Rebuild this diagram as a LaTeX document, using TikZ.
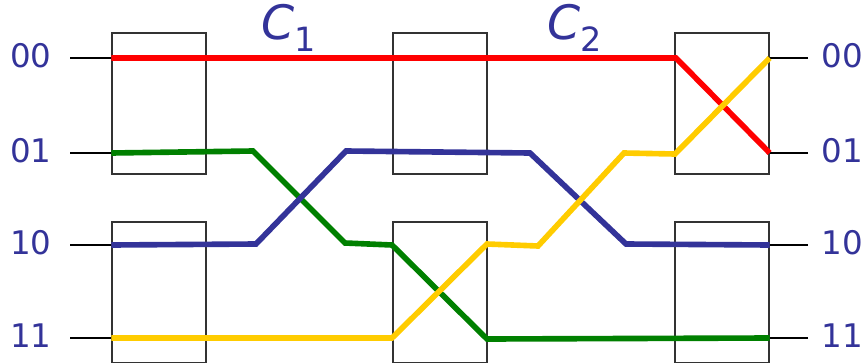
\documentclass[tikz,border=0pt]{standalone}
\usepackage{fontspec}
\newfontfamily\labelfont{DejaVu Sans}
\definecolor{navy}{RGB}{51,51,153}
\definecolor{wred}{RGB}{255,0,0}
\definecolor{wgreen}{RGB}{0,128,0}
\definecolor{wyellow}{RGB}{255,204,0}
\begin{document}
\begin{tikzpicture}[x=0.02cm, y=-0.02cm,
    switchbox/.style={draw=black!80, line width=0.8pt, minimum width=1.88cm, minimum height=2.82cm, inner sep=0pt},
    port/.style={text=navy, font=\labelfont\fontsize{18.5}{22}\selectfont},
    stage/.style={text=navy, font=\labelfont\fontsize{27}{30}\selectfont},
    stub/.style={line width=0.7pt},
    wire/.style={line width=3.2pt}]
	\useasboundingbox (0,0) rectangle (865,362);
	\clip (0,0) rectangle (865,362);
	% switches
	\node[switchbox] (a1) at (159,103.5) {};
	\node[switchbox] (a2) at (159,292.5) {};
	\node[switchbox] (b1) at (440,103.5) {};
	\node[switchbox] (b2) at (440,292.5) {};
	\node[switchbox] (c1) at (722,103.5) {};
	\node[switchbox] (c2) at (722,292.5) {};
	% labels
	\node[port] (in0) at (31,56) {00};
	\node[port] (in1) at (31,151) {01};
	\node[port] (in2) at (31,243) {10};
	\node[port] (in3) at (31,336) {11};
	\node[port] (out0) at (842,56) {00};
	\node[port] (out1) at (842,151) {01};
	\node[port] (out2) at (842,243) {10};
	\node[port] (out3) at (842,336) {11};
	\node[stage] (st1) at (289,28) {\textit{C}\raisebox{-0.25em}{\fontsize{19}{19}\selectfont 1}};
	\node[stage] (st2) at (575,28) {\textit{C}\raisebox{-0.25em}{\fontsize{19}{19}\selectfont 2}};
	% stubs
	\coordinate (l0) at (70,58);
	\coordinate (l1) at (70,153);
	\coordinate (l2) at (70,245);
	\coordinate (l3) at (70,338);
	\coordinate (r0) at (808,58);
	\coordinate (r1) at (808,153);
	\coordinate (r2) at (808,245);
	\coordinate (r3) at (808,338);
	\draw[stub] (l0) -- (l0 -| a1.west);
	\draw[stub] (l1) -- (l1 -| a1.west);
	\draw[stub] (l2) -- (l2 -| a2.west);
	\draw[stub] (l3) -- (l3 -| a2.west);
	\draw[stub] (r0) -- (r0 -| c1.east);
	\draw[stub] (r1) -- (r1 -| c1.east);
	\draw[stub] (r2) -- (r2 -| c2.east);
	\draw[stub] (r3) -- (r3 -| c2.east);
	% routes
	\draw[wire, wred] (l0 -| a1.west) -- (676,58) -- (r1 -| c1.east);
	\draw[wire, wgreen] (l1 -| a1.west) -- (253,151) -- (345,243) -- (392,245) -- (487,339) -- (r3 -| c2.east);
	\draw[wire, navy] (l2 -| a2.west) -- (256,244) -- (346,151) -- (530,153) -- (626,244) -- (r2 -| c2.east);
	\draw[wire, wyellow] (l3 -| a2.west) -- (392,338) -- (487,244) -- (538,246) -- (624,153) -- (675,154) -- (r0 -| c1.east);
\end{tikzpicture}
\end{document}
